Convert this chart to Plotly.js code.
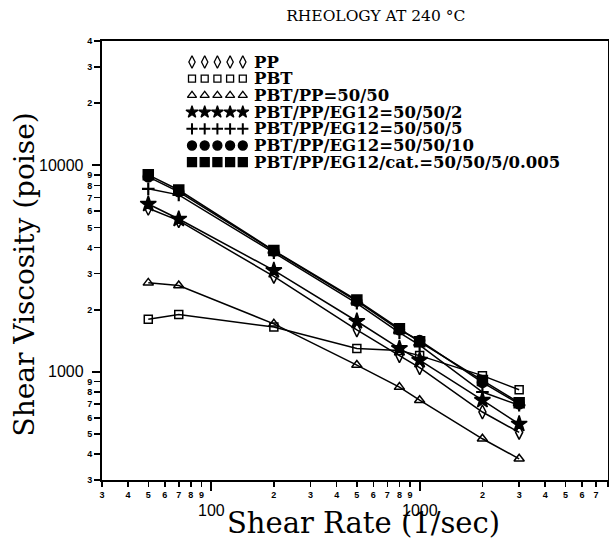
<!DOCTYPE html>
<html>
<head>
<meta charset="utf-8">
<script src="https://cdn.plot.ly/plotly-3.0.1.min.js"></script>
<style>html,body{margin:0;padding:0;background:#fff;}#chart{width:609px;height:540px;}</style>
</head>
<body>
<div id="chart"></div>
<script>
// ---- data ----
const shearRate = [50, 70, 200, 500, 800, 1000, 2000, 3000];

const seriesNames = [
  "PP",
  "PBT",
  "PBT/PP=50/50",
  "PBT/PP/EG12=50/50/2",
  "PBT/PP/EG12=50/50/5",
  "PBT/PP/EG12=50/50/10",
  "PBT/PP/EG12/cat.=50/50/5/0.005"
];

const ppVisc      = [6200, 5400, 2900, 1600, 1200, 1050, 640, 510];
const pbtVisc     = [1800, 1900, 1650, 1300, 1270, 1200, 960, 820];
const blendVisc   = [2700, 2620, 1710, 1080, 845, 730, 475, 380];
const eg2Visc     = [6500, 5500, 3100, 1760, 1300, 1140, 730, 560];
const eg5Visc     = [7700, 7200, 3780, 2150, 1550, 1350, 800, 690];
const eg10Visc    = [8800, 7450, 3850, 2200, 1600, 1420, 890, 700];
const catVisc     = [9000, 7600, 3870, 2230, 1620, 1400, 910, 710];

const seriesValues = [ppVisc, pbtVisc, blendVisc, eg2Visc, eg5Visc, eg10Visc, catVisc];

// tick labels
const xTickVals  = [30,40,50,60,70,80,90,100,200,300,400,500,600,700,800,900,1000,2000,3000,4000,5000,6000,7000,8000];
const xTickText  = ["3","4","5","6","7","8","9","","2","3","4","5","6","7","8","9","","2","3","4","5","6","7","8"];
const xMajorVals = [100, 1000];
const xMajorText = ["100", "1000"];

const yTickVals  = [300,400,500,600,700,800,900,1000,2000,3000,4000,5000,6000,7000,8000,9000,10000,20000,30000,40000];
const yTickText  = ["3","4","5","6","7","8","9","","2","3","4","5","6","7","8","9","","2","3","4"];
const yMajorVals = [1000, 10000];
const yMajorText = ["1000", "10000"];

const chartTitle = "RHEOLOGY AT 240 °C";
const xTitle = "Shear Rate (1/sec)";
const yTitle = "Shear Viscosity (poise)";

// ---- styles ----
const symbols = ["diamond-tall-open","square-open","triangle-up-open","star","cross-thin-open","circle","square"];
const sizes   = [10, 8, 9, 12, 9, 10, 10];

const traces = [];
seriesNames.forEach((name, i) => {
  traces.push({
    type: "scatter",
    mode: "lines+markers",
    name: name,
    x: shearRate,
    y: seriesValues[i],
    line: {color: "#000", width: 1.5},
    marker: {symbol: symbols[i], size: sizes[i], color: "#000",
             line: {color: "#000", width: symbols[i] === "cross-thin-open" ? 2.2 : 1.5}},
    showlegend: false,
    cliponaxis: false
  });
});

// custom legend (5 markers per row + label), drawn on a hidden pixel-scaled overlay axis
const legX0 = 90, legDX = 12.7, legY0 = 21, legDY = 16.7, legTextX = 150;
const annotations = [];
seriesNames.forEach((name, i) => {
  const yRow = legY0 + i * legDY;
  traces.push({
    type: "scatter", mode: "markers", xaxis: "x2", yaxis: "y2",
    x: [0,1,2,3,4].map(k => legX0 + k * legDX),
    y: [0,1,2,3,4].map(() => yRow),
    marker: {symbol: symbols[i], size: Math.min(sizes[i], 10) - 1, color: "#000",
             line: {color: "#000", width: symbols[i] === "cross-thin-open" ? 2 : 1.3}},
    showlegend: false, hoverinfo: "skip", cliponaxis: false
  });
  annotations.push({
    xref: "x2", yref: "y2", x: legTextX, y: yRow, xanchor: "left", yanchor: "middle",
    text: name, showarrow: false,
    font: {family: "DejaVu Serif", size: 16.5, color: "#000", weight: "bold"}
  });
});

xMajorVals.forEach((v, i) => {
  annotations.push({
    xref: "x", yref: "paper", x: Math.log10(v), y: 0, xanchor: "center", yanchor: "top",
    yshift: -20, text: xMajorText[i], showarrow: false,
    font: {family: "Liberation Sans", size: 16, color: "#000"}
  });
});
yMajorVals.forEach((v, i) => {
  annotations.push({
    xref: "paper", yref: "y", x: 0, y: Math.log10(v), xanchor: "right", yanchor: "middle",
    xshift: -16, text: yMajorText[i], showarrow: false,
    font: {family: "Liberation Sans", size: 16, color: "#000"}
  });
});

// axis titles (placed as annotations for exact positioning)
annotations.push({
  xref: "paper", yref: "paper", x: 0.5, y: 0, xanchor: "center", yanchor: "middle",
  xshift: 8, yshift: -43, text: xTitle, showarrow: false,
  font: {family: "DejaVu Serif", size: 29, color: "#000"}
});
annotations.push({
  xref: "paper", yref: "paper", x: 0, y: 0.5, xanchor: "center", yanchor: "middle",
  xshift: -78, yshift: -14, textangle: -90, text: yTitle, showarrow: false,
  font: {family: "DejaVu Serif", size: 28, color: "#000"}
});

const tickFont = {family: "Liberation Sans", size: 9, color: "#000", weight: "bold"};

const layout = {
  width: 609, height: 540,
  margin: {l: 102, r: 1, t: 41, b: 60},
  paper_bgcolor: "#fff", plot_bgcolor: "#fff",
  showlegend: false,
  title: {
    text: chartTitle,
    x: 0.617, xanchor: "center", y: 0.972, yanchor: "middle",
    font: {family: "DejaVu Serif", size: 15.5, color: "#000"}
  },
  xaxis: {
    type: "log", range: [Math.log10(30), Math.log10(8000)],
    showgrid: false, zeroline: false,
    showline: true, linecolor: "#000", linewidth: 2, mirror: true,
    tickmode: "array", tickvals: xTickVals, ticktext: xTickText,
    ticks: "outside", ticklen: 5, tickwidth: 1.5, tickcolor: "#000",
    tickfont: tickFont, ticklabelstandoff: 0,
    minor: {tickmode: "array", tickvals: xMajorVals, ticks: "outside", ticklen: 9, tickwidth: 2, tickcolor: "#000", showgrid: false},
    automargin: false
  },
  yaxis: {
    type: "log", range: [Math.log10(300), Math.log10(40000)],
    showgrid: false, zeroline: false,
    showline: true, linecolor: "#000", linewidth: 2, mirror: true,
    tickmode: "array", tickvals: yTickVals, ticktext: yTickText,
    ticks: "outside", ticklen: 6, tickwidth: 1.5, tickcolor: "#000",
    tickfont: tickFont, ticklabelstandoff: 0,
    minor: {tickmode: "array", tickvals: yMajorVals, ticks: "outside", ticklen: 8, tickwidth: 2, tickcolor: "#000", showgrid: false},
    automargin: false
  },
  xaxis2: {overlaying: "x", anchor: "y2", range: [0, 506], visible: false, fixedrange: true},
  yaxis2: {overlaying: "y", anchor: "x2", range: [439, 0], visible: false, fixedrange: true},
  annotations: annotations
};

Plotly.newPlot("chart", traces, layout, {staticPlot: true, displayModeBar: false});
</script>
</body>
</html>
